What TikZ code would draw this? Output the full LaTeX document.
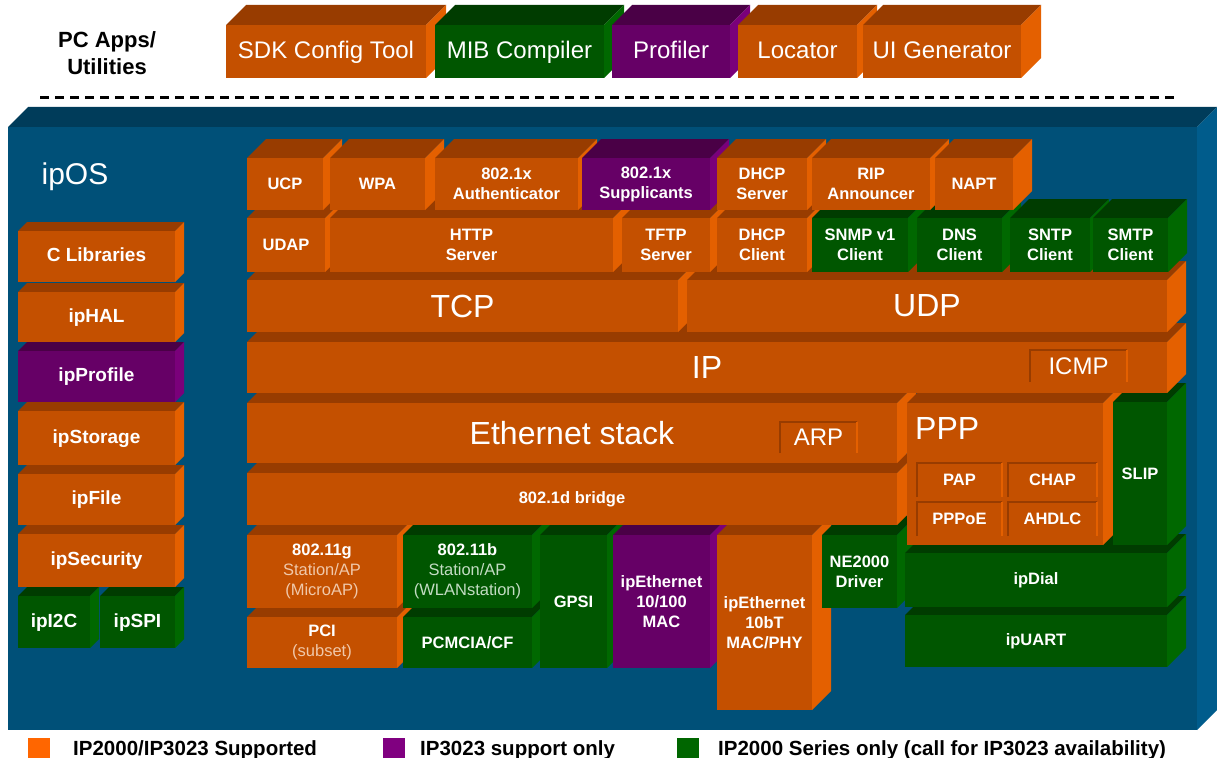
\documentclass[tikz,border=0pt]{standalone}
\usepackage{fontspec}
\setmainfont{Liberation Sans}
\usepackage{tikz}
\definecolor{orf}{RGB}{196,80,0}
\definecolor{ort}{RGB}{152,60,0}
\definecolor{ors}{RGB}{228,96,0}
\definecolor{grf}{RGB}{0,86,0}
\definecolor{grt}{RGB}{0,60,0}
\definecolor{grs}{RGB}{0,104,0}
\definecolor{puf}{RGB}{102,0,102}
\definecolor{put}{RGB}{74,0,70}
\definecolor{pus}{RGB}{122,0,122}
\definecolor{blf}{RGB}{0,80,120}
\definecolor{blt}{RGB}{0,60,90}
\definecolor{bls}{RGB}{0,92,140}
\definecolor{orl}{RGB}{240,200,170}
\definecolor{grl}{RGB}{195,220,195}
\definecolor{keyor}{RGB}{255,102,0}
\definecolor{keypu}{RGB}{128,0,128}
\definecolor{keygr}{RGB}{0,102,0}

\newcommand{\faces}[6]{%
  \fill[#6t] (#1,#2) -- (#1+#5,#2-#5) -- (#3+#5,#2-#5) -- (#3,#2) -- cycle;
  \fill[#6s] (#3,#2) -- (#3+#5,#2-#5) -- (#3+#5,#4-#5) -- (#3,#4) -- cycle;
  \fill[#6f] (#1,#2) rectangle (#3,#4);}
\newcommand{\blok}[9]{\faces{#2}{#3}{#4}{#5}{#6}{#7}%
  \node[lbl,#8] (#1) at ({(#2+#4)/2},{(#3+#5)/2}) {#9};}
\newcommand{\inset}[7]{%
  \fill[orf] (#2,#3) rectangle (#4,#5);
  \draw[ort,line width=1.5pt] (#2,#5) -- (#2,#3) -- (#4,#3);
  \draw[ors,line width=1.5pt] (#4,#3) -- (#4,#5);
  \node[lbl,#6] (#1) at ({(#2+#4)/2},{(#3+#5)/2}) {#7};}
\newcommand{\faint}[2]{{\mdseries\color{#1}#2}}

\begin{document}
\begin{tikzpicture}[x=1pt,y=-1pt,
    lbl/.style={text=white,align=center,inner sep=0pt},
    txtsm/.style={font=\fontsize{16.5}{20}\selectfont\bfseries},
    txtlft/.style={font=\fontsize{19}{22}\selectfont\bfseries,text height=14pt,text depth=4pt},
    txtapp/.style={font=\fontsize{24}{28}\selectfont,text height=17pt,text depth=2pt},
    txtmid/.style={font=\fontsize{24}{28}\selectfont},
    txtbig/.style={font=\fontsize{32}{36}\selectfont},
    keytxt/.style={anchor=base west,inner sep=0pt,font=\fontsize{20.5}{24}\selectfont\bfseries}]
\useasboundingbox (0,0) rectangle (1217,757);
\fill[white] (0,0) rectangle (1217,757);

% PC side
\node[align=center,inner sep=0pt,font=\fontsize{22}{27}\selectfont\bfseries] (pcapps) at (107,53) {PC Apps/\\Utilities};
\blok{sdk}{226}{25}{426}{78}{20}{or}{txtapp}{SDK Config Tool}
\blok{mib}{435}{25}{604}{78}{20}{gr}{txtapp}{MIB Compiler}
\blok{prof}{612}{25}{730}{78}{20}{pu}{txtapp}{Profiler}
\blok{loc}{738}{25}{857}{78}{20}{or}{txtapp}{Locator}
\blok{uigen}{863}{25}{1021}{78}{20}{or}{txtapp}{UI Generator}
\coordinate (dl) at (40,98);
\coordinate (dr) at (1175,98);
\draw[line width=3pt,dash pattern=on 9pt off 6pt] (dl) -- (dr);

% ipOS
\faces{8}{127}{1197}{730}{20}{bl}
\node[text=white,inner sep=0pt,font=\fontsize{30}{34}\selectfont] (ipos) at (75,177) {ipOS};

\blok{i2c}{18}{596}{90}{648}{9}{gr}{txtlft}{ipI2C}
\blok{spi}{100}{596}{175}{648}{9}{gr}{txtlft}{ipSPI}
\blok{secur}{18}{534}{175}{587}{9}{or}{txtlft}{ipSecurity}
\blok{file}{18}{474}{175}{525}{9}{or}{txtlft}{ipFile}
\blok{stor}{18}{411}{175}{465}{9}{or}{txtlft}{ipStorage}
\blok{prfl}{18}{351}{175}{402}{9}{pu}{txtlft}{ipProfile}
\blok{hal}{18}{292}{175}{342}{9}{or}{txtlft}{ipHAL}
\blok{clib}{18}{231}{175}{282}{9}{or}{txtlft}{C Libraries}

% stack, bottom up
\blok{pci}{247}{617}{397}{668}{19}{or}{txtsm}{PCI\\\faint{orl}{(subset)}}
\blok{pcmcia}{403}{617}{532}{668}{19}{gr}{txtsm}{PCMCIA/CF}
\blok{uart}{905}{615}{1167}{667}{19}{gr}{txtsm}{ipUART}
\blok{wlg}{247}{535}{397}{608}{19}{or}{txtsm}{802.11g\\\faint{orl}{Station/AP}\\\faint{orl}{(MicroAP)}}
\blok{wlb}{403}{535}{532}{608}{19}{gr}{txtsm}{802.11b\\\faint{grl}{Station/AP}\\\faint{grl}{(WLANstation)}}
\blok{gpsi}{540}{535}{607}{668}{19}{gr}{txtsm}{GPSI}
\blok{mac}{613}{535}{710}{668}{19}{pu}{txtsm}{ipEthernet\\10/100\\MAC}
\blok{phy}{717}{535}{812}{710}{19}{or}{txtsm}{ipEthernet\\10bT\\MAC/PHY}
\blok{ne}{822}{535}{897}{608}{19}{gr}{txtsm}{NE2000\\Driver}
\blok{dial}{905}{553}{1167}{607}{19}{gr}{txtsm}{ipDial}

\blok{bridge}{247}{473}{897}{525}{19}{or}{txtsm}{802.1d bridge}

\blok{eth}{247}{403}{897}{463}{19}{or}{txtbig}{Ethernet stack}
\inset{arp}{780}{422}{857}{453}{txtmid}{ARP}
\faces{907}{403}{1103}{545}{19}{or}
\node[lbl,txtbig,anchor=west] (ppp) at (915,428) {PPP};
\inset{pap}{917}{463}{1002}{497}{txtsm}{PAP}
\inset{chap}{1008}{463}{1097}{497}{txtsm}{CHAP}
\inset{pppoe}{917}{502}{1002}{536}{txtsm}{PPPoE}
\inset{ahdlc}{1008}{502}{1097}{536}{txtsm}{AHDLC}
\blok{slip}{1113}{402}{1167}{545}{19}{gr}{txtsm}{SLIP}

\blok{ip}{247}{342}{1167}{393}{19}{or}{txtbig}{IP}
\inset{icmp}{1030}{350}{1127}{382}{txtmid}{ICMP}

\blok{tcp}{247}{280}{678}{332}{19}{or}{txtbig}{TCP}
\blok{udp}{687}{280}{1167}{332}{19}{or}{txtbig}{UDP}

\blok{udap}{247}{218}{325}{272}{19}{or}{txtsm}{UDAP}
\blok{http}{330}{218}{613}{272}{19}{or}{txtsm}{HTTP\\Server}
\blok{tftp}{622}{218}{710}{272}{19}{or}{txtsm}{TFTP\\Server}
\blok{dhcpc}{717}{218}{807}{272}{19}{or}{txtsm}{DHCP\\Client}
\blok{snmp}{812}{218}{908}{272}{19}{gr}{txtsm}{SNMP v1\\Client}
\blok{dns}{917}{218}{1002}{272}{19}{gr}{txtsm}{DNS\\Client}
\blok{sntp}{1010}{218}{1090}{272}{19}{gr}{txtsm}{SNTP\\Client}
\blok{smtp}{1093}{218}{1168}{272}{19}{gr}{txtsm}{SMTP\\Client}

\blok{ucp}{247}{158}{323}{210}{19}{or}{txtsm}{UCP}
\blok{wpa}{330}{158}{425}{210}{19}{or}{txtsm}{WPA}
\blok{auth}{435}{158}{578}{210}{19}{or}{txtsm}{802.1x\\Authenticator}
\blok{supp}{582}{158}{710}{210}{19}{pu}{txtsm}{802.1x\\Supplicants}
\blok{dhcps}{717}{158}{807}{210}{19}{or}{txtsm}{DHCP\\Server}
\blok{rip}{812}{158}{930}{210}{19}{or}{txtsm}{RIP\\Announcer}
\blok{napt}{935}{158}{1013}{210}{19}{or}{txtsm}{NAPT}

% key
\fill[keyor] (28,738) rectangle (50,760);
\node[keytxt] (keyora) at (73,755) {IP2000/IP3023 Supported};
\fill[keypu] (383,738) rectangle (405,760);
\node[keytxt] (keypur) at (420,755) {IP3023 support only};
\fill[keygr] (677,738) rectangle (699,760);
\node[keytxt] (keygre) at (718,755) {IP2000 Series only (call for IP3023 availability)};
\end{tikzpicture}
\end{document}
